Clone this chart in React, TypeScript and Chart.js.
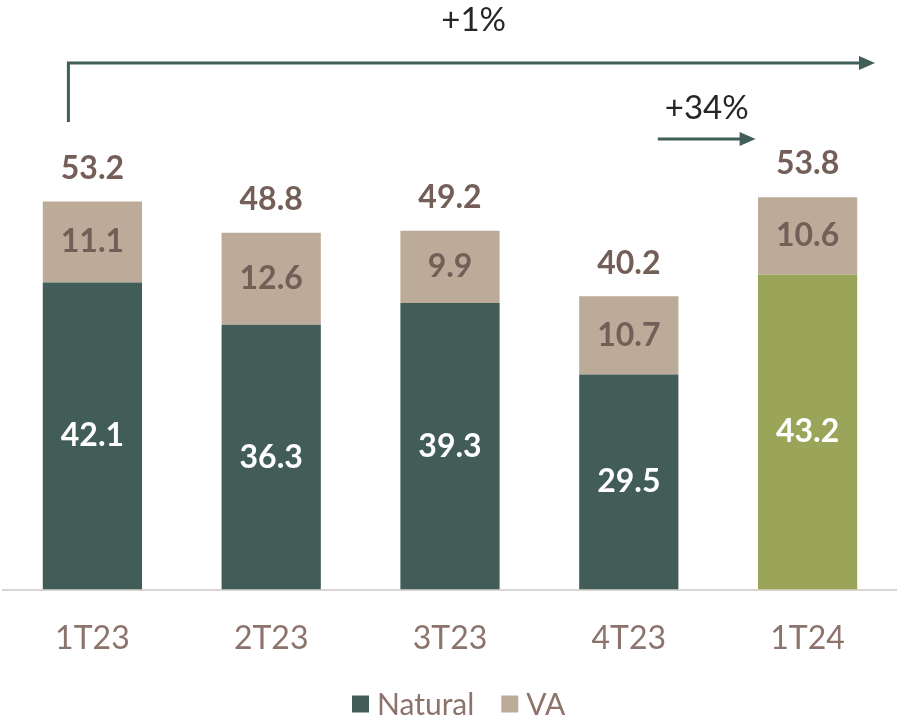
import React, { useEffect, useRef } from "react";
import { Chart, registerables } from "chart.js";

Chart.register(...registerables);

const categories = ["1T23", "2T23", "3T23", "4T23", "1T24"];
const naturalValues = [42.1, 36.3, 39.3, 29.5, 43.2];
const vaValues = [11.1, 12.6, 9.9, 10.7, 10.6];
const totalLabels = ["53.2", "48.8", "49.2", "40.2", "53.8"];
const seriesNames = ["Natural", "VA"];
const growthLabels = ["+1%", "+34%"];

const DARK = "#425c58";
const OLIVE = "#9aa55a";
const TAN = "#bbab98";
const LABEL_BROWN = "#735f58";
const AXIS_BROWN = "#8c736b";
const ARROW = "#3f5f58";
const FONT = "Lato, 'Open Sans', sans-serif";

function arrowHead(ctx: CanvasRenderingContext2D, x: number, y: number, len: number, half: number) {
  ctx.beginPath();
  ctx.moveTo(x, y);
  ctx.lineTo(x - len, y - half);
  ctx.lineTo(x - len, y + half);
  ctx.closePath();
  ctx.fill();
}

const annotationPlugin = {
  id: "annotations",
  afterDatasetsDraw(chart: any) {
    const ctx = chart.ctx as CanvasRenderingContext2D;
    const nat = chart.getDatasetMeta(0).data;
    const va = chart.getDatasetMeta(1).data;
    ctx.save();
    ctx.textAlign = "center";
    ctx.textBaseline = "middle";
    // value labels
    for (let i = 0; i < categories.length; i++) {
      const n = nat[i];
      const v = va[i];
      ctx.font = `bold 32px ${FONT}`;
      ctx.fillStyle = "#ffffff";
      ctx.fillText(naturalValues[i].toFixed(1), n.x, (n.y + n.base) / 2);
      ctx.fillStyle = LABEL_BROWN;
      ctx.fillText(vaValues[i].toFixed(1), v.x, (v.y + v.base) / 2);
      ctx.fillText(totalLabels[i], v.x, v.y - 33);
    }
    // big arrow
    const x0 = nat[0].x - 24;
    const xEnd = chart.chartArea.right - 22;
    const yTop = 63;
    ctx.strokeStyle = ARROW;
    ctx.fillStyle = ARROW;
    ctx.lineWidth = 3;
    ctx.beginPath();
    ctx.moveTo(x0, 122);
    ctx.lineTo(x0, yTop);
    ctx.lineTo(xEnd - 14, yTop);
    ctx.stroke();
    arrowHead(ctx, xEnd, yTop, 16, 7);
    // small arrow
    const sx0 = nat[3].x + 29;
    const sx1 = nat[4].x - 52;
    const sy = 139;
    ctx.beginPath();
    ctx.moveTo(sx0, sy);
    ctx.lineTo(sx1 - 14, sy);
    ctx.stroke();
    arrowHead(ctx, sx1, sy, 16, 7);
    ctx.fillStyle = "#262626";
    ctx.font = `33px ${FONT}`;
    ctx.fillText(growthLabels[0], (x0 + xEnd) / 2 + 2, 20);
    ctx.fillText(growthLabels[1], (sx0 + sx1) / 2, 108);
    // legend
    ctx.font = `30px ${FONT}`;
    ctx.textAlign = "left";
    const colors = [DARK, TAN];
    const box = 17;
    const gap = 8;
    const itemGap = 27;
    const widths = seriesNames.map((s) => box + gap + ctx.measureText(s).width);
    let lx = 352;
    const ly = 704;
    seriesNames.forEach((s, i) => {
      ctx.fillStyle = colors[i];
      ctx.fillRect(lx, ly - box / 2, box, box);
      ctx.fillStyle = AXIS_BROWN;
      ctx.fillText(s, lx + box + gap, ly + 1);
      lx += widths[i] + itemGap;
    });
    ctx.restore();
  },
};

export default function App() {
  const ref = useRef<HTMLCanvasElement>(null);
  useEffect(() => {
    document.body.style.margin = "0";
    const chart = new Chart(ref.current!, {
      type: "bar",
      data: {
        labels: categories,
        datasets: [
          {
            label: seriesNames[0],
            data: naturalValues,
            backgroundColor: naturalValues.map((_, i) => (i === naturalValues.length - 1 ? OLIVE : DARK)),
            categoryPercentage: 1,
            barPercentage: 0.555,
          },
          {
            label: seriesNames[1],
            data: vaValues,
            backgroundColor: TAN,
            categoryPercentage: 1,
            barPercentage: 0.555,
          },
        ],
      },
      options: {
        animation: false,
        responsive: false,
        maintainAspectRatio: false,
        layout: { padding: { left: 3, right: 0, top: 6, bottom: 33 } },
        plugins: { legend: { display: false }, tooltip: { enabled: false } },
        scales: {
          x: {
            stacked: true,
            grid: { display: false, drawTicks: false },
            border: { display: true, color: "#d9d5d2", width: 2 },
            ticks: { color: AXIS_BROWN, font: { family: FONT, size: 32 }, padding: 30 },
          },
          y: {
            stacked: true,
            display: false,
            min: 0,
            max: 80,
          },
        },
      },
      plugins: [annotationPlugin],
    });
    return () => chart.destroy();
  }, []);
  return <canvas ref={ref} width={897} height={721} style={{ display: "block" }} />;
}
